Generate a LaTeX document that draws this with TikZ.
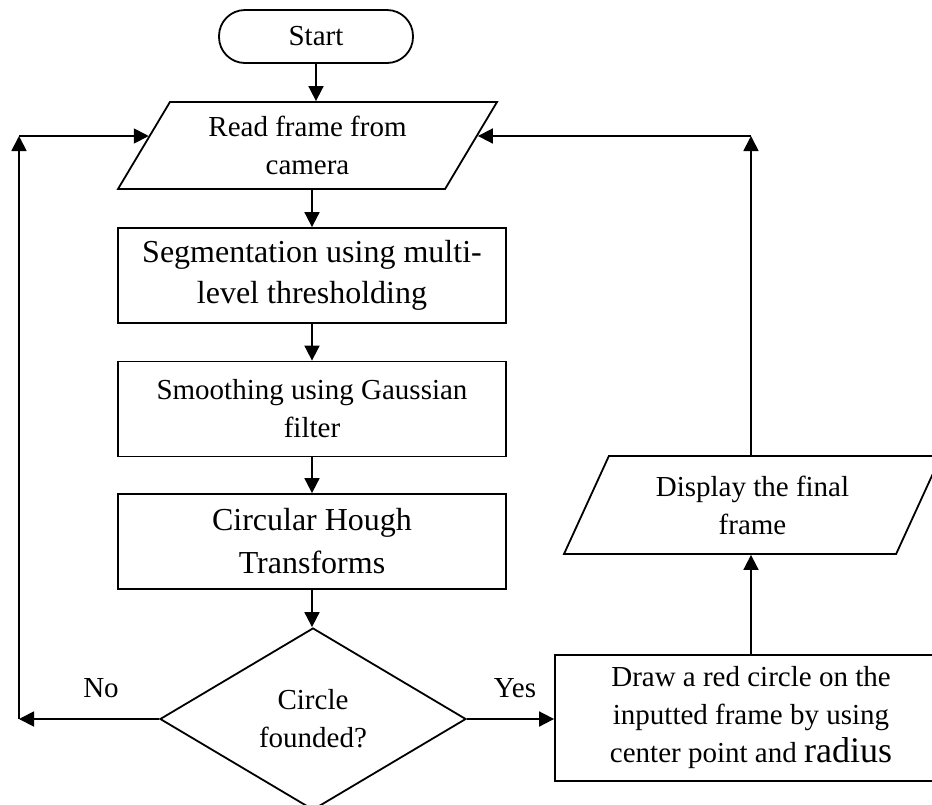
\documentclass[tikz,border=0pt]{standalone}
\usepackage{fontspec}
\setmainfont{Liberation Serif}
\usetikzlibrary{shapes.geometric,arrows.meta,calc}
\tikzset{
  lw/.style={line width=1.8pt},
  fnt/.style={font=\fontsize{29}{38}\selectfont},
  fntbig/.style={font=\fontsize{32}{41}\selectfont},
  procbox/.style={draw, lw, rectangle, inner sep=0pt, align=center, fnt},
  iobox/.style={draw, lw, trapezium, trapezium stretches body=true, inner sep=0pt, align=center, fnt},
  startbox/.style={draw, lw, rectangle, rounded corners=26pt, inner sep=0pt, align=center, fnt},
  decbox/.style={draw, lw, diamond, inner sep=0pt, align=center, fnt},
  lbl/.style={anchor=base, inner sep=0pt, fnt},
  arr/.style={lw, -{Triangle[length=15pt,width=15pt]}}
}
\begin{document}
\begin{tikzpicture}[x=1pt,y=-1pt]
\useasboundingbox (0,0) rectangle (932,804);
\clip (0,0) rectangle (932,804);

\node[startbox, minimum width=194pt, minimum height=53pt] (start) at (316,36.5) {Start};

\node[iobox, minimum width=379pt, minimum height=87pt,
      trapezium left angle=48.5, trapezium right angle=131.5] (read) at (307.5,145.5)
      {Read frame from\\camera};

\node[procbox, fntbig, minimum width=388pt, minimum height=95pt] (seg) at (312,275.5)
      {Segmentation using multi-\\level thresholding};
\node[procbox, minimum width=388pt, minimum height=95pt] (smooth) at (312,409)
      {Smoothing using Gaussian\\filter};
\node[procbox, font=\fontsize{32}{43}\selectfont, minimum width=388pt, minimum height=95pt] (hough) at (312,541.5)
      {Circular Hough\\Transforms};

\node[decbox, minimum width=306pt, minimum height=182pt] (dec) at (313,719)
      {Circle\\founded?};

\node[procbox, minimum width=392pt, minimum height=126pt] (drawbox) at (751,718)
      {Draw a red circle on the\\inputted frame by using\\center point and {\fontsize{36}{38}\selectfont radius}};

\node[iobox, minimum width=377pt, minimum height=98pt,
      trapezium left angle=52.6, trapezium right angle=127.4] (disp) at (752.5,505)
      {Display the final\\frame};

\node[lbl] (no) at (101,697) {No};
\node[lbl] (yes) at (515,697) {Yes};

\coordinate (lb) at (19,719);
\coordinate (lt) at (19,136);
\coordinate (rt) at (751,136);
\coordinate (readL) at ($(read.top left corner)!0.39!(read.bottom left corner)$);
\coordinate (readR) at ($(read.top right corner)!0.39!(read.bottom right corner)$);

\draw[arr] (start.south) -- (start.south |- read.north);
\draw[arr] (seg.north |- read.south) -- (seg.north);
\draw[arr] (seg.south) -- (smooth.north);
\draw[arr] (smooth.south) -- (hough.north);
\draw[arr] (hough.south) -- (hough.south |- dec.north);
\draw[arr] (dec.east) -- (dec.east -| drawbox.west);
\draw[arr] (dec.west) -- (lb);
\draw[arr] (lb) -- (lt);
\draw[arr] (lt) -- (lt -| readL);
\draw[arr] (drawbox.north -| rt) -- (rt |- disp.south);
\draw[arr] (rt |- disp.north) -- (rt);
\draw[arr] (rt) -- (rt -| readR);
\end{tikzpicture}
\end{document}
